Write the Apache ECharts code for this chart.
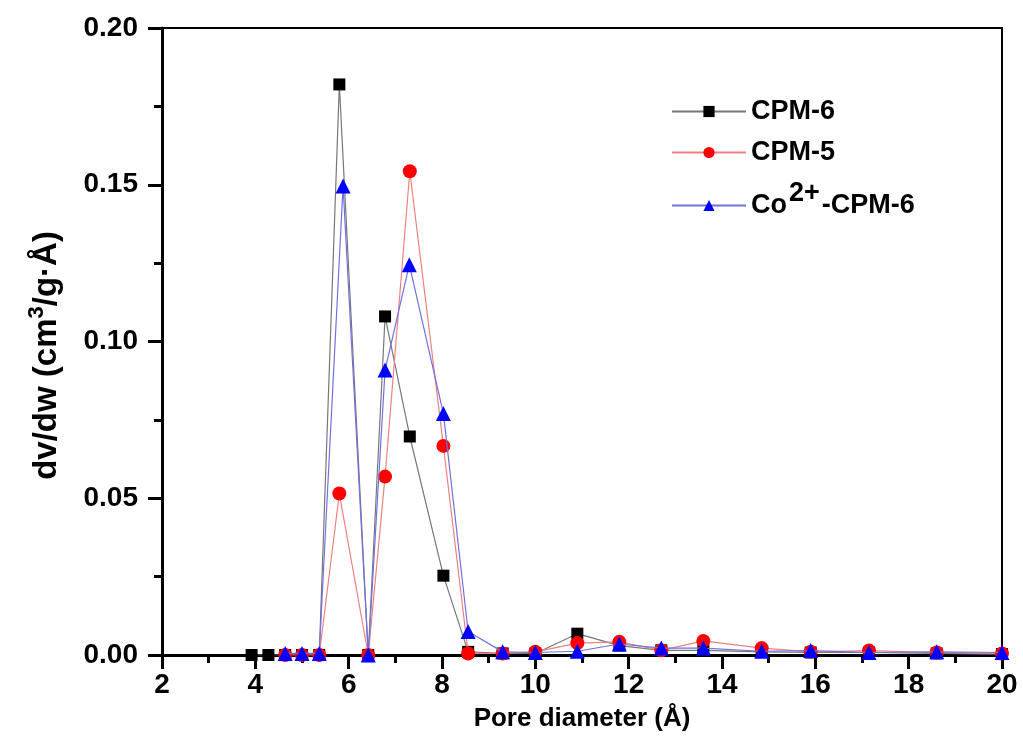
<!DOCTYPE html>
<html>
<head>
<meta charset="utf-8">
<script src="https://cdn.jsdelivr.net/npm/echarts@6/dist/echarts.min.js"></script>
<style>html,body{margin:0;padding:0;background:#fff}#c{width:1023px;height:747px}</style>
</head>
<body>
<div id="c"></div>
<script>
const cpm6X = [3.92, 4.28, 4.64, 5.0, 5.37, 5.8, 6.42, 6.78, 7.31, 8.03, 8.56, 9.3, 10.0, 10.9, 11.8, 12.7, 13.6, 14.85, 15.9, 17.15, 18.6, 20.0];
const cpm6Y = [0, 0, 0, 0, 0, 0.182, 0, 0.108, 0.0697, 0.0253, 0.001, 0.0005, 0.0005, 0.0068, 0.003, 0.0015, 0.0015, 0.001, 0.0008, 0.0008, 0.0005, 0.0003];
const cpm5X = [4.64, 5.0, 5.37, 5.8, 6.42, 6.78, 7.31, 8.03, 8.56, 9.3, 10.0, 10.9, 11.8, 12.7, 13.6, 14.85, 15.9, 17.15, 18.6, 20.0];
const cpm5Y = [0, 0, 0, 0.0515, 0, 0.0569, 0.1543, 0.0667, 0.0005, 0.0005, 0.001, 0.0038, 0.0042, 0.0015, 0.0045, 0.0022, 0.001, 0.0014, 0.0008, 0.0005];
const coX = [4.64, 5.0, 5.37, 5.88, 6.42, 6.78, 7.3, 8.03, 8.56, 9.3, 10.0, 10.9, 11.8, 12.7, 13.6, 14.85, 15.9, 17.15, 18.6, 20.0];
const coY = [0.0005, 0.0005, 0.0005, 0.1496, 0, 0.0909, 0.1245, 0.077, 0.0075, 0.001, 0.0008, 0.0012, 0.0035, 0.0022, 0.0022, 0.0012, 0.0014, 0.0008, 0.001, 0.0008];
const seriesNames = ['CPM-6', 'CPM-5', 'Co2+-CPM-6'];
const xTicks = [2, 4, 6, 8, 10, 12, 14, 16, 18, 20];
const yTicks = [0, 0.05, 0.10, 0.15, 0.20];

const zip = (xs, ys) => xs.map((x, i) => [x, ys[i]]);
const FONT = 'Liberation Sans, Arial, sans-serif';

const chart = echarts.init(document.getElementById('c'), null, {renderer: 'canvas'});
const axisLine = {show: true, onZero: false, lineStyle: {color: '#000', width: 3}};
chart.setOption({
  animation: false,
  backgroundColor: '#fff',
  grid: {left: 162, right: 21, top: 28, bottom: 92, show: true, borderColor: '#000', borderWidth: 2, backgroundColor: 'transparent'},
  legend: {
    left: 666, top: 93, orient: 'vertical', itemWidth: 74, itemHeight: 14, itemGap: 14,
    data: seriesNames,
    textStyle: {
      fontFamily: FONT, fontWeight: 'bold', fontSize: 27, color: '#000',
      rich: {
        a: {fontFamily: FONT, fontWeight: 'bold', fontSize: 27, color: '#000'},
        s: {fontFamily: FONT, fontWeight: 'bold', fontSize: 27, color: '#000', verticalAlign: 'bottom', padding: [0, 2, 24, 2]}
      }
    },
    formatter: n => n === 'Co2+-CPM-6' ? '{a|Co}{s|2+}{a|-CPM-6}' : n
  },
  xAxis: {
    type: 'value', min: 2, max: 20, interval: 2,
    name: 'Pore diameter (Å)', nameLocation: 'middle', nameGap: 51,
    nameTextStyle: {fontFamily: FONT, fontWeight: 'bold', fontSize: 26, color: '#000'},
    axisLine: axisLine,
    axisTick: {show: true, inside: false, length: 14, lineStyle: {width: 3, color: '#000'}},
    minorTick: {show: true, splitNumber: 2, length: 8, lineStyle: {width: 3, color: '#000'}},
    splitLine: {show: false},
    axisLabel: {fontFamily: FONT, fontWeight: 'bold', fontSize: 28, color: '#000', margin: 16,
      formatter: v => xTicks.includes(v) ? String(v) : ''}
  },
  yAxis: {
    type: 'value', min: 0, max: 0.2, interval: 0.05,
    name: '{a|dv/dw (cm}{s|3}{a|/g·Å)}', nameLocation: 'middle', nameGap: 95,
    nameTextStyle: {
      fontFamily: FONT, fontWeight: 'bold', fontSize: 33, color: '#000', padding: [0, 28, 0, 0],
      rich: {
        a: {fontFamily: FONT, fontWeight: 'bold', fontSize: 33, color: '#000'},
        s: {fontFamily: FONT, fontWeight: 'bold', fontSize: 22, color: '#000', verticalAlign: 'bottom', padding: [0, 0, 19, 0]}
      }
    },
    axisLine: axisLine,
    axisTick: {show: true, inside: false, length: 14, lineStyle: {width: 3, color: '#000'}},
    minorTick: {show: true, splitNumber: 2, length: 8, lineStyle: {width: 3, color: '#000'}},
    splitLine: {show: false},
    axisLabel: {fontFamily: FONT, fontWeight: 'bold', fontSize: 28, color: '#000', margin: 24,
      formatter: v => yTicks.some(t => Math.abs(t - v) < 1e-9) ? v.toFixed(2) : ''}
  },
  series: [
    {name: seriesNames[0], type: 'line', data: zip(cpm6X, cpm6Y), symbol: 'rect', symbolSize: 12,
     itemStyle: {color: '#000'}, lineStyle: {color: '#777', width: 1.2}, z: 3},
    {name: seriesNames[1], type: 'line', data: zip(cpm5X, cpm5Y), symbol: 'circle', symbolSize: 14,
     itemStyle: {color: '#ff0000'}, lineStyle: {color: '#f08080', width: 1.2}, z: 4},
    {name: seriesNames[2], type: 'line', data: zip(coX, coY), symbol: 'triangle', symbolSize: 15,
     itemStyle: {color: '#0000ff'}, lineStyle: {color: '#7070e0', width: 1.2}, z: 5}
  ]
});
</script>
</body>
</html>
